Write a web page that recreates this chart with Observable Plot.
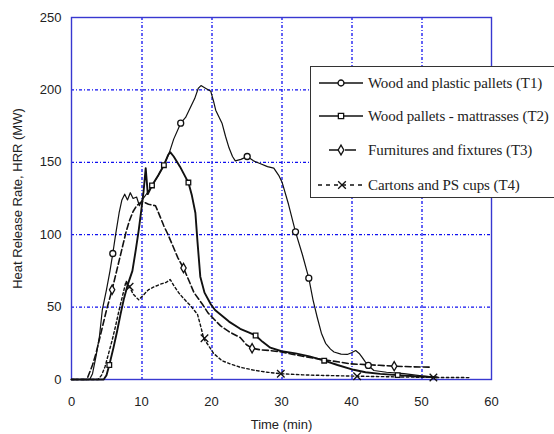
<!DOCTYPE html>
<html>
<head>
<meta charset="utf-8">
<script src="https://cdn.jsdelivr.net/npm/d3@7"></script>
<script src="https://cdn.jsdelivr.net/npm/@observablehq/plot@0.6"></script>
<style>
  html, body { margin: 0; padding: 0; background: #fff; }
  #wrap { position: relative; width: 554px; height: 434px; overflow: hidden; }
  #legend { position: absolute; left: 310px; top: 66px; width: 243px; height: 130px; border: 1px solid #333; background: #fff;
            font-family: "Liberation Serif", "Times New Roman", serif; font-size: 15px; color: #222; }
  #legend .row { position: absolute; left: 0; height: 20px; display: flex; align-items: center; }
  #legend svg { display: block; }
  #legend span { margin-left: 1px; white-space: nowrap; letter-spacing: -0.1px; }
</style>
</head>
<body>
<div id="wrap"></div>
<script>
// ---- data ----
const xTicks = [0, 10, 20, 30, 40, 50, 60];
const yTicks = [0, 50, 100, 150, 200, 250];
const xLabel = "Time (min)";
const yLabel = "Heat Release Rate, HRR (MW)";
const seriesNames = [
  "Wood and plastic pallets (T1)",
  "Wood pallets - mattrasses (T2)",
  "Furnitures and fixtures (T3)",
  "Cartons and PS cups (T4)"
];

const t1 = [[0,0],[2.6,0],[3,4],[3.5,16],[4,30],[4.4,48],[5,62],[5.5,75],[5.9,87],[6.3,100],[6.8,115],[7.2,124],[7.6,128],[8,124],[8.4,129],[8.8,125],[9.3,126],[9.7,120],[10.1,124],[11,130],[11.5,134],[12.3,140],[13.2,148],[14,157],[14.6,166],[15.6,177],[16.3,181],[17,188],[17.6,194],[18.1,201],[18.5,203],[19.2,201],[19.9,199],[20.3,192],[20.6,186],[21.5,177],[22,168],[22.5,160],[23,154],[23.4,151],[24.2,152],[25.1,154],[26,151],[27,149],[28,147],[28.9,146],[29.6,141],[30.1,136],[31,121],[32,102],[33,86],[33.9,70],[34.5,55],[35.1,43],[35.7,32],[36.3,25],[37,21],[37.5,19],[38.5,17.5],[39.4,17.3],[40,18.5],[40.6,20],[41.1,18],[41.5,15.4],[42,12],[42.4,9.7],[43.2,6.2],[45,5],[47.5,4],[50,2.5],[52,1.5]];
const t2 = [[0,0],[4.6,0],[5,3],[5.4,10],[6,22],[6.5,33],[7,45],[7.5,56],[8,65],[8.7,75],[9.2,90],[9.6,103],[10,118],[10.3,130],[10.6,146],[10.9,128],[11.5,134],[12.4,141],[13.2,148],[13.8,155],[14.1,157],[14.6,154],[15.5,147],[16.7,136],[17.2,127],[17.7,115],[18,95],[18.4,71],[19,60],[19.9,52],[20.5,48],[21.5,44],[22.5,40],[24.1,35],[25.3,32.5],[26.3,30.4],[27.3,26],[28.4,22],[30,19.5],[32,18],[34,16],[36.1,13],[38,10],[40.3,6.7],[42,5],[44.1,3.9],[46.6,3],[49,2.2],[52.2,1.6]];
const t3 = [[0,0],[2.2,0],[2.6,5],[3,10],[3.5,18],[4,28],[4.5,38],[5,48],[5.8,62],[6.3,72],[6.8,82],[7.3,92],[7.8,102],[8.3,110],[8.8,116],[9.3,120],[9.8,122],[10.1,123],[11,121],[12,120],[12.7,112],[13.2,106],[13.7,101],[14.5,92],[15.2,84],[16,77],[16.8,68],[17.5,60],[18.7,52],[19.5,46],[20.3,42],[21.3,37],[22.5,33],[24.1,29],[25,24],[25.8,21.6],[27,20.5],[28.4,20],[30,19],[31.5,17.5],[33.2,15.9],[35,14.5],[37,13],[39.9,10.8],[42,10.3],[44,9.8],[46.1,9.2],[48.5,8.8],[51.3,8.5]];
const t4 = [[0,0],[3.8,0],[4.3,3],[4.8,9],[5.3,18],[5.8,27],[6.3,37],[6.8,48],[7.3,58],[7.8,68],[8.3,64],[8.8,59],[9.6,55],[10.2,58],[11,62],[11.8,64],[12.8,66],[13.5,67],[14.1,69],[14.6,65],[15.3,60],[16,56],[17,51],[18,45],[18.5,36],[18.9,28],[19.5,24],[20.3,18],[21.5,13],[22.8,10.5],[24.1,8.5],[26,6.5],[28,5],[29.9,4],[33,3.2],[36,2.8],[40.8,2.3],[44,2],[48,1.7],[51.7,1.4],[54,1.4],[57,1.3]];

const m1 = [[5.9,87],[15.6,177],[25.1,154],[32,102],[33.9,70],[42.4,9.7]];
const m2 = [[5.4,10],[11.5,134],[13.2,148],[16.7,136],[26.3,30.4],[36.1,13],[46.6,3]];
const m3 = [[5.8,62],[16,77],[25.8,21.6],[46.1,9.2]];
const m4 = [[8.3,64],[19,28.5],[29.9,4],[40.8,2.3],[51.7,1.4]];

// ---- styles ----
const styles = [
  {w: 1.2, dash: null, symbol: "circle", r: 3},
  {w: 1.9, dash: null, symbol: "square", r: 2.6},
  {w: 1.6, dash: "6,3", symbol: "diamond", r: 2.8},
  {w: 1.4, dash: "2.5,2.5", symbol: "times", r: 3.5}
];
const lines = [t1, t2, t3, t4];
const markers = [m1, m2, m3, m4];

const gridColor = "#1010f0";
const frameColor = "#3838d0";

const marks = [
  Plot.ruleX(xTicks.slice(1, -1), {x: d => d, dx: 0.5, stroke: gridColor, strokeWidth: 1.3, strokeDasharray: "3,2,1,2"}),
  Plot.ruleY(yTicks.slice(1, -1), {y: d => d, stroke: gridColor, strokeWidth: 1.2, strokeDasharray: "3,2,1,2"}),
  Plot.frame({stroke: frameColor, strokeWidth: 1.4}),
  Plot.axisX(xTicks, {tickSize: 0, tickPadding: 17, fontSize: 13, fill: "#222", label: null}),
  Plot.axisY(yTicks, {tickSize: 0, tickPadding: 10, fontSize: 13, fill: "#222", label: null}),
  Plot.text([xLabel], {frameAnchor: "bottom", dy: 49, fontSize: 13, fill: "#222", textAnchor: "middle", text: d => d}),
  Plot.text([yLabel], {frameAnchor: "left", dx: -54, rotate: -90, fontSize: 13, fill: "#222", textAnchor: "middle", text: d => d})
];
lines.forEach((data, i) => {
  const s = styles[i];
  marks.push(Plot.line(data, {x: d => d[0], y: d => d[1], stroke: "#111", strokeWidth: s.w, strokeDasharray: s.dash, strokeLinejoin: "round"}));
});
markers.forEach((data, i) => {
  const s = styles[i];
  marks.push(Plot.dot(data, {x: d => d[0], y: d => d[1], symbol: s.symbol, r: s.r, stroke: "#111", strokeWidth: 1.3, fill: s.symbol === "times" ? "none" : "white"}));
});

const chart = Plot.plot({
  width: 554,
  height: 434,
  marginLeft: 71,
  marginRight: 63,
  marginTop: 17,
  marginBottom: 55,
  style: {fontFamily: "'Liberation Sans', Arial, sans-serif", background: "white"},
  x: {domain: [0, 60]},
  y: {domain: [0, 250]},
  marks
});

const wrap = document.getElementById("wrap");
wrap.appendChild(chart);

// ---- legend ----
const legend = document.createElement("div");
legend.id = "legend";
const rowTops = [82, 115, 149, 184];
const sampleDefs = [
  {x1: 8, x2: 52, dash: null, mx: 30},
  {x1: 8, x2: 52, dash: null, mx: 30},
  {x1: 18, x2: 50, dash: "11,5", mx: 30},
  {x1: 7, x2: 53, dash: "4,4", mx: 31}
];
seriesNames.forEach((name, i) => {
  const row = document.createElement("div");
  row.className = "row";
  row.style.top = (rowTops[i] - 66 - 10) + "px";
  const ns = "http://www.w3.org/2000/svg";
  const svg = document.createElementNS(ns, "svg");
  svg.setAttribute("width", 56); svg.setAttribute("height", 20);
  const sd = sampleDefs[i];
  const ln = document.createElementNS(ns, "line");
  ln.setAttribute("x1", sd.x1); ln.setAttribute("x2", sd.x2);
  ln.setAttribute("y1", 10); ln.setAttribute("y2", 10);
  ln.setAttribute("stroke", "#111"); ln.setAttribute("stroke-width", 1.3);
  if (sd.dash) ln.setAttribute("stroke-dasharray", sd.dash);
  svg.appendChild(ln);
  const sym = d3.symbol().type({circle: d3.symbolCircle, square: d3.symbolSquare, diamond: d3.symbolDiamond, times: d3.symbolTimes}[styles[i].symbol]).size(styles[i].symbol === "times" ? 40 : 28);
  const p = document.createElementNS(ns, "path");
  p.setAttribute("d", sym());
  p.setAttribute("transform", `translate(${sd.mx},10)`);
  p.setAttribute("stroke", "#111"); p.setAttribute("stroke-width", 1.3);
  p.setAttribute("fill", styles[i].symbol === "times" ? "none" : "white");
  svg.appendChild(p);
  row.appendChild(svg);
  const sp = document.createElement("span");
  sp.textContent = name;
  row.appendChild(sp);
  legend.appendChild(row);
});
wrap.appendChild(legend);
</script>
</body>
</html>
